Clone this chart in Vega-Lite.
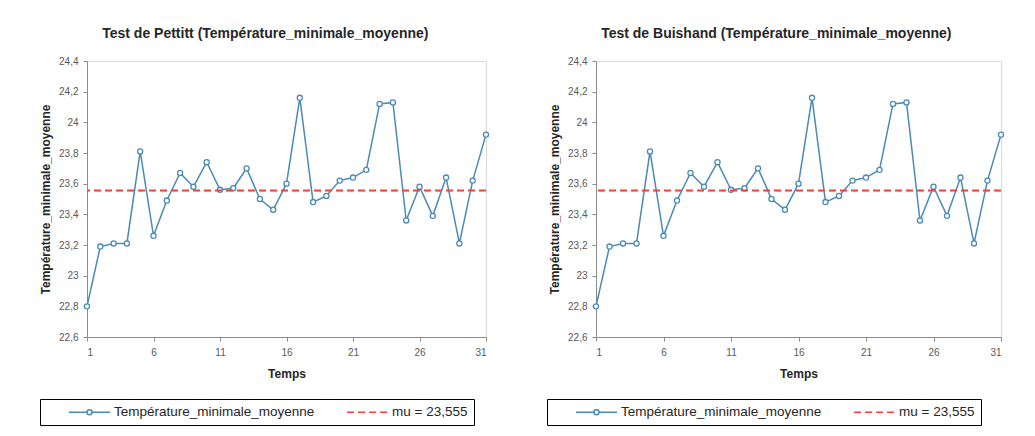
{
  "$schema": "https://vega.github.io/schema/vega-lite/v6.json",
  "background": "white",
  "padding": {"left": 39, "top": 26, "right": 5, "bottom": 5},
  "datasets": {
    "serie": [
      {"t": 1, "v": 22.80}, {"t": 2, "v": 23.19}, {"t": 3, "v": 23.21}, {"t": 4, "v": 23.21},
      {"t": 5, "v": 23.81}, {"t": 6, "v": 23.26}, {"t": 7, "v": 23.49}, {"t": 8, "v": 23.67},
      {"t": 9, "v": 23.58}, {"t": 10, "v": 23.74}, {"t": 11, "v": 23.56}, {"t": 12, "v": 23.57},
      {"t": 13, "v": 23.70}, {"t": 14, "v": 23.50}, {"t": 15, "v": 23.43}, {"t": 16, "v": 23.60},
      {"t": 17, "v": 24.16}, {"t": 18, "v": 23.48}, {"t": 19, "v": 23.52}, {"t": 20, "v": 23.62},
      {"t": 21, "v": 23.64}, {"t": 22, "v": 23.69}, {"t": 23, "v": 24.12}, {"t": 24, "v": 24.13},
      {"t": 25, "v": 23.36}, {"t": 26, "v": 23.58}, {"t": 27, "v": 23.39}, {"t": 28, "v": 23.64},
      {"t": 29, "v": 23.21}, {"t": 30, "v": 23.62}, {"t": 31, "v": 23.92}
    ],
    "mu": [{"mu": 23.555}]
  },
  "config": {
    "font": "Liberation Sans",
    "view": {"stroke": "#d9d9d9", "strokeWidth": 1},
    "concat": {"spacing": 110},
    "title": {"fontSize": 14, "fontWeight": "bold", "color": "#262626", "anchor": "middle", "frame": "bounds", "offset": 15},
    "axis": {
      "domainColor": "#8c8c8c", "tickColor": "#8c8c8c", "tickSize": 4,
      "labelFont": "Liberation Sans", "labelFontSize": 10, "labelColor": "#595959", "labelOverlap": false,
      "titleFont": "Liberation Sans", "titleFontSize": 12, "titleFontWeight": "bold", "titleColor": "#262626",
      "grid": false
    },
    "legend": {
      "orient": "none", "legendY": 338, "direction": "horizontal", "title": null,
      "strokeColor": "#000000", "padding": 6, "fillColor": "white",
      "symbolSize": 144, "symbolStrokeWidth": 1.5, "symbolOffset": 36.5, "labelOffset": 17.5, "columnPadding": 9,
      "labelFont": "Liberation Sans", "labelFontSize": 13.5, "labelColor": "#262626", "labelLimit": 400
    }
  },
  "bounds": "flush",
  "hconcat": [
    {
      "title": "Test de Pettitt (Température_minimale_moyenne)",
      "width": 399, "height": 276,
      "layer": [
        {
          "data": {"name": "serie"},
          "mark": {"type": "line", "strokeWidth": 1.5, "color": "#4a8ab5", "point": {"filled": false, "fill": "white", "size": 26, "strokeWidth": 1.3}},
          "encoding": {
            "x": {"field": "t", "type": "quantitative", "title": "Temps",
                  "scale": {"domain": [1, 31], "nice": false, "zero": false},
                  "axis": {"values": [1, 6, 11, 16, 21, 26, 31], "tickCount": 20, "labelPadding": 6, "titlePadding": 11, "labelOverlap": false}},
            "y": {"field": "v", "type": "quantitative", "title": "Température_minimale_moyenne",
                  "scale": {"domain": [22.6, 24.4], "nice": false, "zero": false},
                  "axis": {"values": [22.6, 22.8, 23, 23.2, 23.4, 23.6, 23.8, 24, 24.2, 24.4], "tickCount": 20,
                           "labelExpr": "replace(format(datum.value, '.1~f'), '.', ',')",
                           "labelPadding": 5, "titlePadding": 6, "labelOverlap": false, "labelFlush": false}},
            "color": {"datum": "Température_minimale_moyenne", "type": "nominal",
                      "scale": {"domain": ["Température_minimale_moyenne", "mu = 23,555"], "range": ["#4a8ab5", "#ff3b3b"]},
                      "legend": {
                        "legendX": -47,
                        "encode": {"symbols": {"update": {
                          "shape": {"signal": "datum.value === 'mu = 23,555' ? 'M-3.42,0L-2.25,0M-1.58,0L-0.41,0M0.26,0L1.43,0M2.1,0L3.27,0' : 'M-3.42,0L-0.42,0M0.42,0L3.42,0M0.42,0A0.42,0.42,0,1,1,-0.42,0A0.42,0.42,0,1,1,0.42,0'"},
                          "fill": {"value": "white"}
                        }}}
                      }}
          }
        },
        {
          "data": {"name": "mu"},
          "mark": {"type": "rule", "strokeWidth": 2, "strokeDash": [7, 4]},
          "encoding": {
            "y": {"field": "mu", "type": "quantitative"},
            "color": {"datum": "mu = 23,555", "type": "nominal"}
          }
        }
      ]
    },
    {
      "title": "Test de Buishand (Température_minimale_moyenne)",
      "width": 405, "height": 276,
      "layer": [
        {
          "data": {"name": "serie"},
          "mark": {"type": "line", "strokeWidth": 1.5, "color": "#4a8ab5", "point": {"filled": false, "fill": "white", "size": 26, "strokeWidth": 1.3}},
          "encoding": {
            "x": {"field": "t", "type": "quantitative", "title": "Temps",
                  "scale": {"domain": [1, 31], "nice": false, "zero": false},
                  "axis": {"values": [1, 6, 11, 16, 21, 26, 31], "tickCount": 20, "labelPadding": 6, "titlePadding": 11, "labelOverlap": false}},
            "y": {"field": "v", "type": "quantitative", "title": "Température_minimale_moyenne",
                  "scale": {"domain": [22.6, 24.4], "nice": false, "zero": false},
                  "axis": {"values": [22.6, 22.8, 23, 23.2, 23.4, 23.6, 23.8, 24, 24.2, 24.4], "tickCount": 20,
                           "labelExpr": "replace(format(datum.value, '.1~f'), '.', ',')",
                           "labelPadding": 5, "titlePadding": 6, "labelOverlap": false, "labelFlush": false}},
            "color": {"datum": "Température_minimale_moyenne", "type": "nominal",
                      "scale": {"domain": ["Température_minimale_moyenne", "mu = 23,555"], "range": ["#4a8ab5", "#ff3b3b"]},
                      "legend": {
                        "legendX": -49,
                        "encode": {"symbols": {"update": {
                          "shape": {"signal": "datum.value === 'mu = 23,555' ? 'M-3.42,0L-2.25,0M-1.58,0L-0.41,0M0.26,0L1.43,0M2.1,0L3.27,0' : 'M-3.42,0L-0.42,0M0.42,0L3.42,0M0.42,0A0.42,0.42,0,1,1,-0.42,0A0.42,0.42,0,1,1,0.42,0'"},
                          "fill": {"value": "white"}
                        }}}
                      }}
          }
        },
        {
          "data": {"name": "mu"},
          "mark": {"type": "rule", "strokeWidth": 2, "strokeDash": [7, 4]},
          "encoding": {
            "y": {"field": "mu", "type": "quantitative"},
            "color": {"datum": "mu = 23,555", "type": "nominal"}
          }
        }
      ]
    }
  ],
  "resolve": {"scale": {"color": "independent"}, "legend": {"color": "independent"}}
}
